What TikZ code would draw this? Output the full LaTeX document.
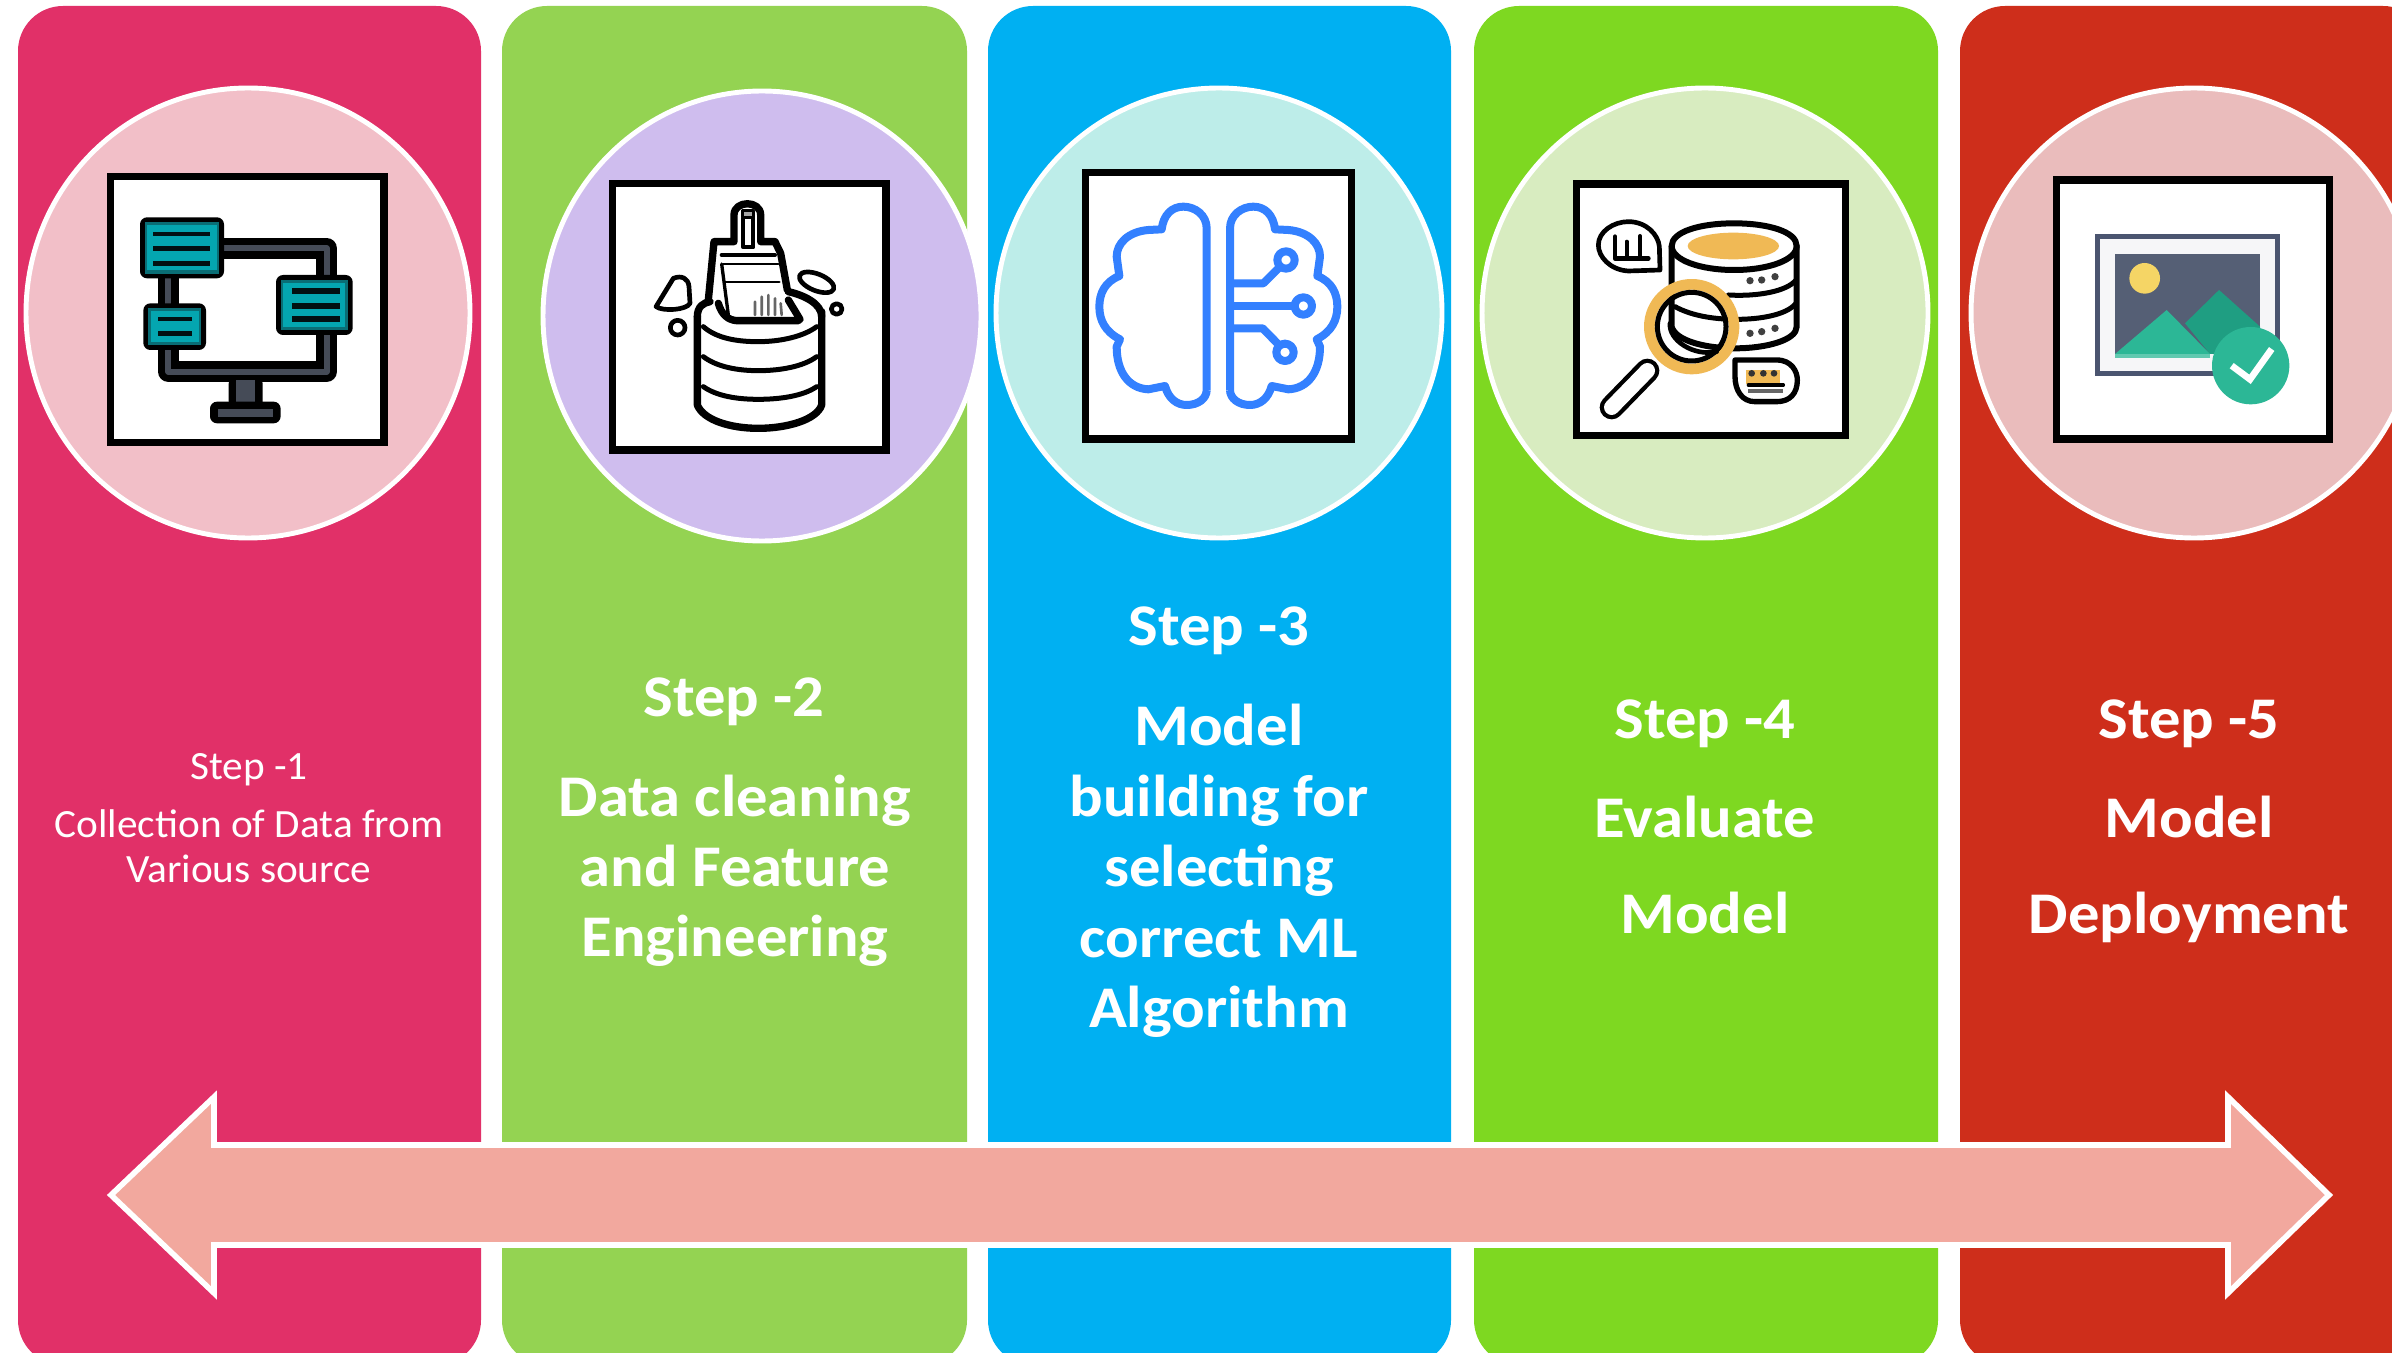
\documentclass[tikz,border=0pt]{standalone}
\usepackage{fontspec}
\setmainfont{Carlito}
\newfontfamily\stepfont[FakeStretch=1.06]{Carlito}
\newfontfamily\smallfont[FakeStretch=1.03]{Carlito}
\definecolor{barA}{HTML}{E13068}
\definecolor{barB}{HTML}{94D352}
\definecolor{barC}{HTML}{00B0F2}
\definecolor{barD}{HTML}{7ED821}
\definecolor{barE}{HTML}{CE2E1B}
\definecolor{circA}{HTML}{F2BFC8}
\definecolor{circB}{HTML}{CFBDEE}
\definecolor{circC}{HTML}{BDEDE9}
\definecolor{circD}{HTML}{D8ECC0}
\definecolor{circE}{HTML}{EABCBC}
\definecolor{arrowfill}{HTML}{F2A89E}
\definecolor{teal1}{HTML}{04A6B0}
\definecolor{teal2}{HTML}{0A6E75}
\definecolor{slate}{HTML}{454B57}
\definecolor{brainblue}{HTML}{3380FF}
\definecolor{gold}{HTML}{F0B955}
\definecolor{frameblue}{HTML}{4B5570}
\definecolor{sky}{HTML}{555F75}
\definecolor{sun}{HTML}{F5D565}
\definecolor{mtdark}{HTML}{1F9E82}
\definecolor{mtlight}{HTML}{2CB796}
\newcommand{\brainhalf}{%
  \draw[brainline] (410,720) -- (410,235) .. controls (410,195) and (375,170) .. (340,170)
    .. controls (305,170) and (280,195) .. (275,238) -- (235,240)
    .. controls (175,245) and (140,280) .. (140,320) -- (148,378)
    .. controls (105,395) and (88,430) .. (88,470) .. controls (88,510) and (105,545) .. (150,568)
    -- (140,590) .. controls (140,665) and (175,715) .. (235,718) -- (285,708)
    .. controls (295,745) and (320,765) .. (350,765) .. controls (385,765) and (410,745) .. (410,720);}
\newcommand{\dbbox}[4]{%
  \fill[black,rounded corners=2pt] (#1,#2) rectangle (#3,#4);
  \fill[teal2] (#1+14,#2+14) rectangle (#3-14,#4-14);
  \fill[teal1] (#1+22,#2+24) rectangle (#3-22,#4-24);}
\tikzset{
  zw/.style={line width=#1*0.0948pt},
  barshape/.style={rounded corners=12.8pt},
  medallion/.style={draw=white,line width=1.4pt},
  iconbox/.style={draw=black,fill=white,line width=2pt},
  iconzoom/.style={scale=1/3},
  steptext/.style={anchor=base,text=white,font=\fontsize{16.8pt}{20pt}\stepfont\bfseries,inner sep=0pt},
  smalltext/.style={anchor=base,text=white,font=\fontsize{11.4pt}{14pt}\smallfont,inner sep=0pt},
  brainline/.style={draw=brainblue,zw=24,line join=round},
  inkline/.style={draw=black,line join=round,line cap=round},
  bigarrow/.style={draw=white,fill=arrowfill,line width=1.6pt,line join=miter},
}
\begin{document}
\begin{tikzpicture}[x=0.01cm,y=-0.01cm]
\useasboundingbox (0,0) rectangle (2392,1352);
\clip (0,0) rectangle (2392,1352);
\fill[white] (0,0) rectangle (2392,1352);
% bars
\fill[barA,barshape] (18,6) rectangle (481,1365);
\fill[barB,barshape] (502,6) rectangle (967,1365);
\fill[barC,barshape] (988,6) rectangle (1451,1365);
\fill[barD,barshape] (1474,6) rectangle (1938,1365);
\fill[barE,barshape] (1960,6) rectangle (2428,1365);
% circles
\draw[medallion,fill=circA] (248,313) ellipse (222 and 225);
\draw[medallion,fill=circB] (762,316) ellipse (219 and 225);
\draw[medallion,fill=circC] (1219,313) ellipse (223 and 225);
\draw[medallion,fill=circD] (1705,313) ellipse (223 and 225);
\draw[medallion,fill=circE] (2194,313) ellipse (223 and 225);

% icon 1
\begin{scope}[shift={(90,150)},iconzoom]
\draw[iconbox] (61,79) rectangle (882,877);
\foreach \w/\c in {62/black,18/slate}{
  \draw[draw=\c,zw=\w,line join=round] (395,295) -- (710,295) -- (710,390);
  \draw[draw=\c,zw=\w,line join=round] (235,590) -- (235,665) -- (710,665) -- (710,545);
  \draw[draw=\c,zw=\w] (235,375) -- (235,465);
}
\fill[black,rounded corners=2pt] (416,680) rectangle (518,775);
\fill[slate] (438,690) rectangle (496,770);
\fill[black,rounded corners=2pt] (360,755) rectangle (572,820);
\fill[slate] (385,778) rectangle (550,800);
\dbbox{150}{202}{402}{385}
\foreach \y in {252,295,340} \fill[black!85!teal2] (190,\y-7) rectangle (360,\y+7);
\dbbox{160}{460}{348}{600}
\foreach \y in {507,550} \fill[black!85!teal2] (205,\y-7) rectangle (305,\y+7);
\dbbox{558}{375}{788}{555}
\foreach \y in {423,467,508} \fill[black!85!teal2] (605,\y-9) rectangle (750,\y+9);
\end{scope}

% icon 2
\begin{scope}[shift={(590,160)},iconzoom]
\draw[iconbox] (68,70) rectangle (888,870);
\begin{scope}[inkline,zw=22]
\draw (322,470) -- (322,735) .. controls (340,780) and (420,805) .. (505,805) .. controls (590,805) and (680,780) .. (695,735) -- (695,455);
\draw (322,470) .. controls (322,440) and (340,428) .. (360,425);
\draw (595,395) .. controls (640,405) and (695,430) .. (695,470);
\draw (385,430) .. controls (395,465) and (415,480) .. (440,482) -- (625,482);
\draw (595,420) -- (630,478);
\draw[zw=15] (340,500) .. controls (380,535) and (440,545) .. (505,545) .. controls (570,545) and (640,530) .. (680,500);
\draw[zw=15] (340,590) .. controls (380,620) and (440,632) .. (505,632) .. controls (570,632) and (640,620) .. (680,590);
\draw[zw=15] (340,680) .. controls (380,708) and (440,718) .. (505,718) .. controls (570,718) and (640,708) .. (680,680);
\draw (355,420) -- (372,245) -- (432,245) -- (432,165) .. controls (432,120) and (512,120) .. (512,165) -- (512,245) -- (555,245) -- (572,280) -- (592,390);
\draw[zw=12] (460,175) -- (460,262) -- (490,262) -- (490,175);
\draw[zw=10,fill=gray!70] (458,152) rectangle (490,172);
\draw[zw=12] (395,285) -- (555,285) ;
\draw[zw=8] (400,312) -- (565,312);
\draw[zw=8] (405,366) -- (568,366);
\draw[zw=10] (395,312) -- (415,465);
\draw[zw=8,gray!80!black] (495,465) -- (495,425) (515,465) -- (515,410) (535,465) -- (535,405) (555,465) -- (555,415) (575,465) -- (572,430);
\draw[zw=14] (198,440) -- (250,355) .. controls (275,345) and (295,355) .. (297,380) -- (300,430) .. controls (290,450) and (220,455) .. (198,440) -- cycle;
\draw[zw=14] (263,503) circle (22);
\draw[zw=14,rotate around={-22:(680,367)}] (680,367) ellipse (55 and 25);
\draw[zw=14] (740,447) circle (16);
\end{scope}
\end{scope}

% icon 3
\begin{scope}[shift={(1070,150)},iconzoom]
\draw[iconbox] (46,67) rectangle (843,867);
\brainhalf
\begin{scope}[shift={(890,0)},xscale=-1]
\brainhalf
\end{scope}
\draw[brainline] (480,400) -- (580,400) -- (625,355);
\draw[brainline,fill=white] (648,330) circle (26);
\draw[brainline] (480,468) -- (672,468);
\draw[brainline,fill=white] (700,468) circle (26);
\draw[brainline] (480,535) -- (578,535) -- (622,580);
\draw[brainline,fill=white] (645,607) circle (26);
\end{scope}

% icon 4
\begin{scope}[shift={(1560,160)},iconzoom]
\draw[iconbox] (50,72) rectangle (857,826);
\begin{scope}[inkline,zw=18]
\draw (335,258) -- (335,500) .. controls (345,540) and (430,565) .. (525,565) .. controls (620,565) and (710,540) .. (710,500) -- (710,258);
\draw (335,258) .. controls (335,215) and (420,190) .. (522,190) .. controls (625,190) and (710,215) .. (710,258) .. controls (710,300) and (625,330) .. (522,330) .. controls (420,330) and (335,300) .. (335,258) -- cycle;
\draw[zw=15] (505,405) .. controls (590,410) and (680,395) .. (708,360);
\draw[zw=15] (345,440) .. controls (400,470) and (470,478) .. (530,478) .. controls (600,478) and (680,465) .. (708,430);
\fill[gold] (520,258) ellipse (137 and 40);
\fill[black!75] (570,362) circle (11) (605,360) circle (11) (645,350) circle (11) (570,520) circle (11) (605,515) circle (11) (645,505) circle (11);
\draw[zw=32,gold] (395,500) circle (127);
\draw[zw=15] (395,500) circle (103);
\draw[zw=14] (330,490) .. controls (325,540) and (400,590) .. (470,575);
\draw[zw=72] (262,632) -- (155,742);
\draw[zw=46,white] (262,632) -- (155,742);
\draw[zw=14] (300,330) -- (205,333) .. controls (150,330) and (115,290) .. (115,255) .. controls (115,215) and (160,185) .. (205,185) .. controls (260,185) and (295,225) .. (298,260) -- cycle;
\draw[zw=14] (165,230) -- (165,295) -- (265,295);
\draw[zw=12] (200,290) -- (200,245) (240,290) -- (240,228);
\fill[gold] (558,630) rectangle (660,672);
\fill[black!80] (575,640) circle (10) (610,640) circle (10) (642,640) circle (10);
\draw[zw=16] (525,600) -- (650,600) .. controls (695,600) and (712,635) .. (712,660) .. controls (712,700) and (690,725) .. (650,725) -- (585,725) .. controls (545,725) and (525,690) .. (525,650) -- cycle;
\draw[zw=10] (565,675) -- (670,675);
\fill[black!60] (565,688) rectangle (670,700);
\end{scope}
\end{scope}

% icon 5
\begin{scope}[shift={(2040,160)},iconzoom]
\draw[iconbox] (48,60) rectangle (868,837);
\draw[draw=frameblue,fill=white!95!frameblue,zw=16] (172,230) rectangle (712,640);
\fill[sky] (225,282) rectangle (660,582);
\fill[sun] (314,355) circle (46);
\fill[mtdark] (435,490) -- (537,390) -- (660,500) -- (660,582) -- (510,582) -- cycle;
\fill[mtlight] (225,582) -- (380,450) -- (510,582) -- cycle;
\fill[mtlight!75!white] (225,582) rectangle (510,594);
\fill[mtlight] (632,617) circle (116);
\draw[white,zw=20,line join=miter] (575,617) -- (630,658) -- (695,567);
\end{scope}

% double arrow
\draw[bigarrow] (111,1195) -- (214,1097) -- (214,1145) -- (2228,1145) -- (2228,1097) -- (2329,1195) -- (2228,1293) -- (2228,1245) -- (214,1245) -- (214,1293) -- cycle;

% texts
\node[smalltext] (s1a) at (249,779) {Step -1};
\node[smalltext] (s1b) at (249,837) {Collection of Data from};
\node[smalltext] (s1c) at (249,882) {Various source};

\node[steptext] (s2a) at (734,716) {Step -2};
\node[steptext] (s2b) at (735,816) {Data cleaning};
\node[steptext] (s2c) at (735,886) {and Feature};
\node[steptext] (s2d) at (735,956) {Engineering};

\node[steptext] (s3a) at (1219,645) {Step -3};
\node[steptext] (s3b) at (1219,745) {Model};
\node[steptext] (s3c) at (1219,816) {building for};
\node[steptext] (s3d) at (1219,886) {selecting};
\node[steptext] (s3e) at (1219,957) {correct ML};
\node[steptext] (s3f) at (1219,1027) {Algorithm};

\node[steptext] (s4a) at (1705,738) {Step -4};
\node[steptext] (s4b) at (1705,837) {Evaluate};
\node[steptext] (s4c) at (1705,933) {Model};

\node[steptext] (s5a) at (2189,738) {Step -5};
\node[steptext] (s5b) at (2189,837) {Model};
\node[steptext] (s5c) at (2189,933) {Deployment};
\end{tikzpicture}
\end{document}
